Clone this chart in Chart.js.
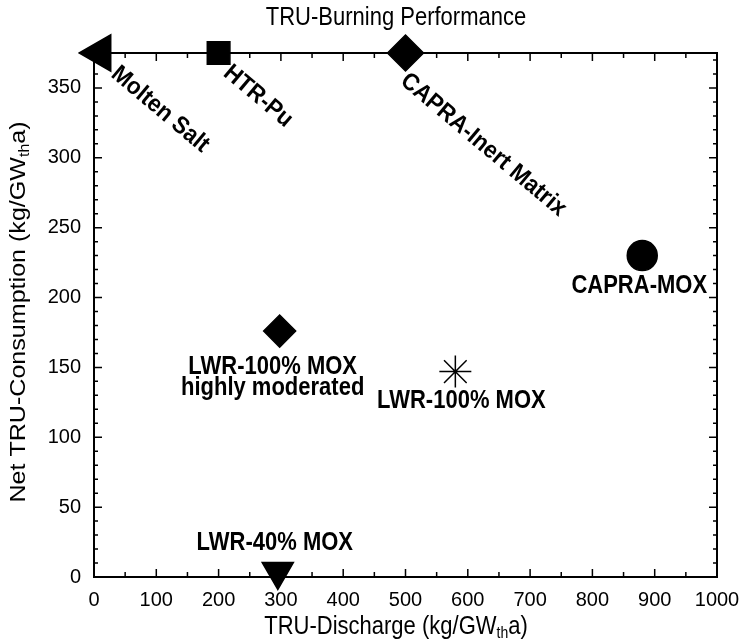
<!DOCTYPE html>
<html>
<head>
<meta charset="utf-8">
<script src="https://cdn.jsdelivr.net/npm/chart.js@4.4.1/dist/chart.umd.min.js"></script>
<style>
  html, body { margin: 0; padding: 0; background: #fff; }
  #wrap { width: 744px; height: 643px; }
</style>
</head>
<body>
<div id="wrap"><canvas id="tru"></canvas></div>
<script>
// reactor concepts, TRU discharge vs net TRU consumption (kg/GWth a)
var reactors = ['Molten Salt', 'HTR-Pu', 'CAPRA-Inert Matrix', 'CAPRA-MOX',
                'LWR-100% MOX\nhighly moderated', 'LWR-100% MOX', 'LWR-40% MOX'];
var discharge = [10, 200, 500, 880, 298, 580, 295];
var consumption = [375, 375, 375, 230, 176, 147, 4];

var xTicks = [0, 100, 200, 300, 400, 500, 600, 700, 800, 900, 1000];
var yTicks = [0, 50, 100, 150, 200, 250, 300, 350];

// marker look per reactor
var markerStyle = ['triangle', 'rect', 'rectRot', 'circle', 'rectRot', 'star', 'triangle'];
var markerRotation = [-90, 0, 0, 0, 0, 0, 180];
var markerRadius = [21, 16, 18, 15, 16, 16, 18];

// label placement: pixel offset from marker, angle in degrees
var labelPlace = [
    { dx: 14, dy: 18, angle: 40 },
    { dx: 8, dy: 17, angle: 40 },
    { dx: -2, dy: 25, angle: 40 },
    { dx: -3, dy: 30, angle: 0 },
    { dx: -7, dy: 36, angle: 0 },
    { dx: 6, dy: 29, angle: 0 },
    { dx: -3, dy: -28, angle: 0 }
];

var FONT = '"Liberation Sans", Arial, Helvetica, sans-serif';
var STRETCH = 1.14; // lettering is a little taller than plain Arial

function drawSubText(ctx, parts, x, y, sx, sy) {
    // parts: [[text, isSub], ...], centred on x, middle on y
    var total = 0;
    parts.forEach(function (p) {
        ctx.font = (p[1] ? '14px ' : '22px ') + FONT;
        total += ctx.measureText(p[0]).width;
    });
    ctx.save();
    ctx.translate(x, y);
    ctx.scale(sx, sy);
    var cx = -total / 2;
    ctx.textAlign = 'left';
    ctx.textBaseline = 'middle';
    parts.forEach(function (p) {
        ctx.font = (p[1] ? '14px ' : '22px ') + FONT;
        ctx.fillText(p[0], cx, p[1] ? 6 : 0);
        cx += ctx.measureText(p[0]).width;
    });
    ctx.restore();
}

var framePlugin = {
    id: 'frame',
    beforeDatasetsDraw: function (chart) {
        var ctx = chart.ctx;
        var a = chart.chartArea;
        var xs = chart.scales.x, ys = chart.scales.y;
        ctx.save();
        ctx.strokeStyle = '#000';
        ctx.lineWidth = 1.5;
        ctx.beginPath();
        for (var v = 0; v <= 1000; v += 50) {
            var px = xs.getPixelForValue(v);
            var len = v % 100 === 0 ? 8 : 5;
            ctx.moveTo(px, a.bottom); ctx.lineTo(px, a.bottom - len);
            ctx.moveTo(px, a.top); ctx.lineTo(px, a.top + len);
        }
        for (var w = 0; w <= 370; w += 10) {
            var py = ys.getPixelForValue(w);
            var l2 = w % 50 === 0 ? 8 : 4;
            ctx.moveTo(a.left, py); ctx.lineTo(a.left + l2, py);
            ctx.moveTo(a.right, py); ctx.lineTo(a.right - l2, py);
        }
        ctx.stroke();
        ctx.lineWidth = 2;
        ctx.strokeRect(a.left, a.top, a.right - a.left, a.bottom - a.top);

        ctx.fillStyle = '#000';
        ctx.save();
        ctx.translate(396, 18);
        ctx.scale(1, STRETCH);
        ctx.font = '22px ' + FONT;
        ctx.textAlign = 'center';
        ctx.textBaseline = 'middle';
        ctx.fillText('TRU-Burning Performance', 0, 0);
        ctx.restore();

        drawSubText(ctx, [['TRU-Discharge (kg/GW', false], ['th', true], ['a)', false]],
                    396, 627, 1, STRETCH);
        ctx.translate(19, 312);
        ctx.rotate(-Math.PI / 2);
        drawSubText(ctx, [['Net TRU-Consumption (kg/GW', false], ['th', true], ['a)', false]],
                    0, 0, STRETCH, 1);
        ctx.restore();
    },
    afterDatasetsDraw: function (chart) {
        var ctx = chart.ctx;
        var pts = chart.getDatasetMeta(0).data;
        ctx.save();
        ctx.fillStyle = '#000';
        ctx.font = 'bold 22px ' + FONT;
        reactors.forEach(function (name, i) {
            var p = labelPlace[i];
            var x = pts[i].x + p.dx, y = pts[i].y + p.dy;
            ctx.save();
            ctx.translate(x, y);
            if (p.angle) {
                ctx.rotate(p.angle * Math.PI / 180);
                ctx.scale(1.02, 1.1);
                ctx.textAlign = 'left';
            } else {
                ctx.scale(1, STRETCH);
                ctx.textAlign = 'center';
            }
            ctx.textBaseline = 'middle';
            name.split('\n').forEach(function (line, k) {
                ctx.fillText(line, 0, k * 21 / STRETCH);
            });
            ctx.restore();
        });
        ctx.restore();
    }
};

var ctx = document.getElementById('tru').getContext('2d');
var chart = new Chart(ctx, {
    type: 'scatter',
    data: {
        datasets: [{
            label: 'TRU',
            data: discharge.map(function (d, i) { return { x: d, y: consumption[i] }; }),
            pointStyle: markerStyle,
            pointRotation: markerRotation,
            pointRadius: markerRadius,
            pointHoverRadius: markerRadius,
            backgroundColor: '#000',
            borderColor: '#000',
            borderWidth: 1.5,
            clip: false
        }]
    },
    options: {
        responsive: true,
        maintainAspectRatio: false,
        animation: false,
        layout: { padding: { top: 53, right: 27, left: 0, bottom: 0 } },
        plugins: {
            legend: { display: false },
            tooltip: { enabled: false }
        },
        scales: {
            x: {
                min: 0,
                max: 1000,
                afterFit: function (s) {
                    s.height = 66;
                    s.paddingLeft = 0;
                    s.paddingRight = 0;
                },
                afterBuildTicks: function (s) {
                    s.ticks = xTicks.map(function (v) { return { value: v }; });
                },
                grid: { display: false, drawTicks: false },
                border: { display: false },
                ticks: {
                    padding: 11,
                    maxRotation: 0,
                    autoSkip: false,
                    color: '#000',
                    font: { size: 20, family: FONT },
                    callback: function (v) { return String(v); }
                }
            },
            y: {
                min: 0,
                max: 375,
                afterFit: function (s) {
                    s.width = 94;
                    s.paddingTop = 0;
                    s.paddingBottom = 0;
                },
                afterBuildTicks: function (s) {
                    s.ticks = yTicks.map(function (v) { return { value: v }; });
                },
                grid: { display: false, drawTicks: false },
                border: { display: false },
                ticks: {
                    padding: 13,
                    autoSkip: false,
                    color: '#000',
                    font: { size: 20, family: FONT },
                    callback: function (v) { return String(v); }
                }
            }
        }
    },
    plugins: [framePlugin]
});
</script>
</body>
</html>
